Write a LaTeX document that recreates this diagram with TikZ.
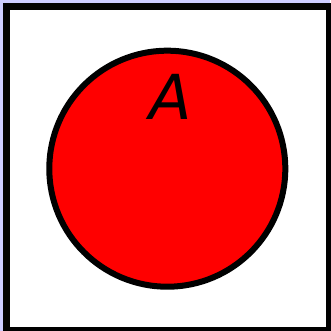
\documentclass[tikz,border=0pt]{standalone}
\usepackage{fontspec}
\newfontfamily\djv{DejaVu Sans}
\definecolor{lav}{RGB}{204,204,255}
\begin{document}
\begin{tikzpicture}[x=1pt,y=-1pt,
  frame/.style={draw=black,line width=7pt,fill=white},
  setcircle/.style={circle,draw=black,fill=red,line width=6pt,minimum size=236pt,inner sep=0pt},
  lbl/.style={font=\djv\itshape\fontsize{62}{62}\selectfont,text=black,inner sep=0pt}]
\useasboundingbox (0,0) rectangle (330,331);
\fill[lav] (0,0) rectangle (330,331);
\draw[frame] (6.5,7) rectangle (329.5,330.5);
\node[setcircle] (A) at (167.3,168.7) {};
\node[lbl] (Alabel) at (170.5,96.5) {A};
\end{tikzpicture}
\end{document}
